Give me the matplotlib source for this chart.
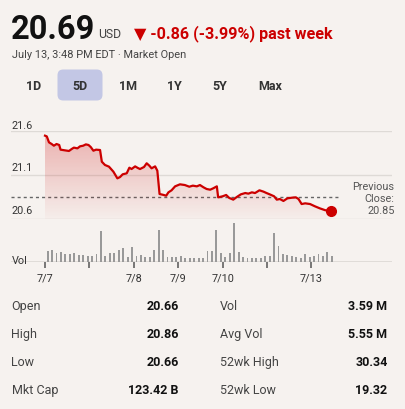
import numpy as np
import matplotlib
matplotlib.use("Agg")
import matplotlib.pyplot as plt
from matplotlib.patches import FancyBboxPatch, Polygon

plt.rcParams['font.family'] = ['Roboto', 'DejaVu Sans']

W, H = 405, 410
BG = '#f6f2ef'
RED = '#cc0000'

# price trace: x in volume-bar slots (10 per tick), y in USD
price_x = [0, 0.4, 0.9, 1.5, 2.0, 2.6, 3.2, 3.5, 4.5, 5.4, 6.0, 6.5, 7.3, 7.9,
           8.6, 9.2, 9.8, 10.3, 10.9, 11.5, 12.4, 12.8, 13.5, 14.4, 15.4,
           16.3, 16.9, 17.5, 18.4, 19.0, 19.5, 20.3, 20.9, 21.4, 22.3, 22.9,
           23.5, 24.0, 24.8, 25.3, 25.8, 26.5, 27.3, 27.8, 28.5, 29.3, 30.4,
           31.5, 32.5, 33.3, 34.2, 34.9, 35.7, 36.4, 37.2, 37.9, 38.7, 39.0,
           40.0, 40.8, 41.5, 42.4, 43.2, 44.1, 45.1, 45.8, 46.6, 47.3, 48.3,
           49.2, 49.9, 50.8, 51.6, 52.2, 52.9, 53.7, 54.6, 55.6, 56.5, 57.1,
           57.8, 58.6, 59.7, 60.8, 61.9, 63.1, 64.4]
price_y = [21.547, 21.539, 21.471, 21.452, 21.433, 21.452, 21.441, 21.388,
           21.380, 21.373, 21.395, 21.411, 21.403, 21.426, 21.433, 21.448,
           21.441, 21.418, 21.376, 21.388, 21.384, 21.251, 21.214, 21.195,
           21.138, 21.062, 21.077, 21.108, 21.119, 21.183, 21.168, 21.198,
           21.180, 21.168, 21.191, 21.233, 21.206, 21.176, 21.198, 21.149,
           20.884, 20.876, 20.865, 20.903, 20.926, 20.971, 20.994, 20.986,
           20.967, 20.979, 20.971, 20.986, 20.960, 20.941, 20.933, 20.949,
           20.971, 20.846, 20.858, 20.873, 20.839, 20.820, 20.850, 20.880,
           20.895, 20.888, 20.903, 20.895, 20.926, 20.911, 20.895, 20.876,
           20.858, 20.820, 20.827, 20.805, 20.835, 20.842, 20.846, 20.827,
           20.770, 20.778, 20.770, 20.744, 20.721, 20.700, 20.690]
prev_close = 20.85

volume = [35, 37, 28, 32, 24, 24, 28, 23, 21, 19, 19, 25, 95, 20, 28, 28, 37,
          43, 17, 46, 19, 23, 15, 16, 37, 99, 37, 15, 15, 15, 19, 13, 13, 13,
          13, 13, 34, 34, 99, 27, 16, 28, 118, 32, 17, 13, 13, 13, 13, 18, 18,
          89, 49, 26, 21, 20, 16, 13, 25, 15, 20, 25, 18, 31, 19]

y_ticks = [20.6, 21.1, 21.6]
day_ticks = [0, 10, 20, 30, 40, 50, 60]
day_labels = ['7/7', '', '7/8', '7/9', '7/10', '', '7/13']

ranges = ['1D', '5D', '1M', '1Y', '5Y', 'Max']
range_x = [34, 80, 127.7, 174.7, 220, 270.3]

stats_left = [('Open', '20.66'), ('High', '20.86'), ('Low', '20.66'),
              ('Mkt Cap', '123.42 B')]
stats_right = [('Vol', '3.59 M'), ('Avg Vol', '5.55 M'),
               ('52wk High', '30.34'), ('52wk Low', '19.32')]


def fx(x):
    return x / W


def fy(y):
    return 1 - y / H


fig = plt.figure(figsize=(W / 100, H / 100), dpi=100, facecolor=BG)

# header
fig.text(fx(11), fy(39), '20.69', fontsize=23.5, fontweight='bold', color='#111111')
fig.text(fx(98), fy(38.5), 'USD', fontsize=8.8, color='#444444')
fig.text(fx(134), fy(38.5), '▼ -0.86 (-3.99%) past week', fontsize=11.6,
         fontweight='bold', color=RED, family=['Roboto', 'DejaVu Sans'])
fig.text(fx(11.5), fy(58.5), 'July 13, 3:48 PM EDT · Market Open',
         fontsize=7.9, color='#444444')

hl = FancyBboxPatch((fx(57.5), fy(101.5)), fx(45), 31 / H,
                    boxstyle='round,pad=0,rounding_size=0.014',
                    transform=fig.transFigure, facecolor='#c3c7e5',
                    edgecolor='none')
fig.patches.append(hl)
for lbl, x in zip(ranges, range_x):
    fig.text(fx(x), fy(86), lbl, fontsize=9, fontweight='bold',
             color='#333333', ha='center', va='center')

# price axes
xmin, xmax = -34 / 4.44, 347 / 4.44
ax = fig.add_axes([fx(11), fy(220), fx(381), 88 / H])
ax.set_xlim(xmin, xmax)
ax.set_ylim(20.6, 21.6)
ax.axis('off')
for t in y_ticks:
    ax.axhline(t, color='#dedad6', lw=1, zorder=0)
ax.plot([xmin, 66], [prev_close] * 2, color='#666666', lw=1,
        dashes=(2.2, 2.2), zorder=1)

verts = list(zip(price_x, price_y)) + [(price_x[-1], 20.6), (price_x[0], 20.6)]
poly = Polygon(verts, closed=True, facecolor='none', edgecolor='none')
ax.add_patch(poly)
grad = np.zeros((100, 2, 4))
c = matplotlib.colors.to_rgb(RED)
grad[..., :3] = c
grad[..., 3] = np.linspace(0.26, 0.02, 100)[:, None]
im = ax.imshow(grad, extent=(price_x[0], price_x[-1], 20.6, 21.55),
               aspect='auto', origin='upper', zorder=1)
im.set_clip_path(poly)
ax.plot(price_x, price_y, color=RED, lw=1.6, zorder=3,
        solid_joinstyle='round')
ax.plot(price_x[-1], price_y[-1], 'o', color=RED, ms=7, zorder=4,
        clip_on=False)

for t, yb in zip(y_ticks, [214.3, 171, 129]):
    fig.text(fx(11.5), fy(yb), f'{t:.1f}', fontsize=7.8, color='#333333')
for i, s in enumerate(['Previous', 'Close:', '20.85']):
    fig.text(fx(394.5), fy(190 + 12.2 * i), s, fontsize=7.8,
             color='#555555', ha='right')

# volume axes
axv = fig.add_axes([fx(11), fy(263.3), fx(381), 43.3 / H])
axv.set_xlim(xmin, xmax)
axv.set_ylim(0, 131)
axv.set_facecolor('none')
for sp in axv.spines.values():
    sp.set_visible(False)
axv.axhline(0, color='#dcd8d4', lw=1.2, zorder=0)
axv.bar(np.arange(len(volume)) + 0.6, volume, width=0.42, color='#999999',
        zorder=2)
axv.set_yticks([])
axv.set_xticks(day_ticks)
axv.set_xticklabels(day_labels, fontsize=7.8, color='#333333')
axv.tick_params(axis='x', length=4.5, width=1.1, color='#555555', pad=2.5)
fig.text(fx(11.5), fy(264), 'Vol', fontsize=7.8, color='#333333')

# stats table
rows_y = [310, 338, 366, 394]
for (lab, val), yb in zip(stats_left, rows_y):
    fig.text(fx(11.5), fy(yb), lab, fontsize=9, color='#444444')
    fig.text(fx(179), fy(yb), val, fontsize=9, fontweight='bold',
             color='#111111', ha='right')
for (lab, val), yb in zip(stats_right, rows_y):
    fig.text(fx(220), fy(yb), lab, fontsize=9, color='#444444')
    fig.text(fx(387.5), fy(yb), val, fontsize=9, fontweight='bold',
             color='#111111', ha='right')

fig.savefig('out.png', dpi=100, facecolor=BG)
